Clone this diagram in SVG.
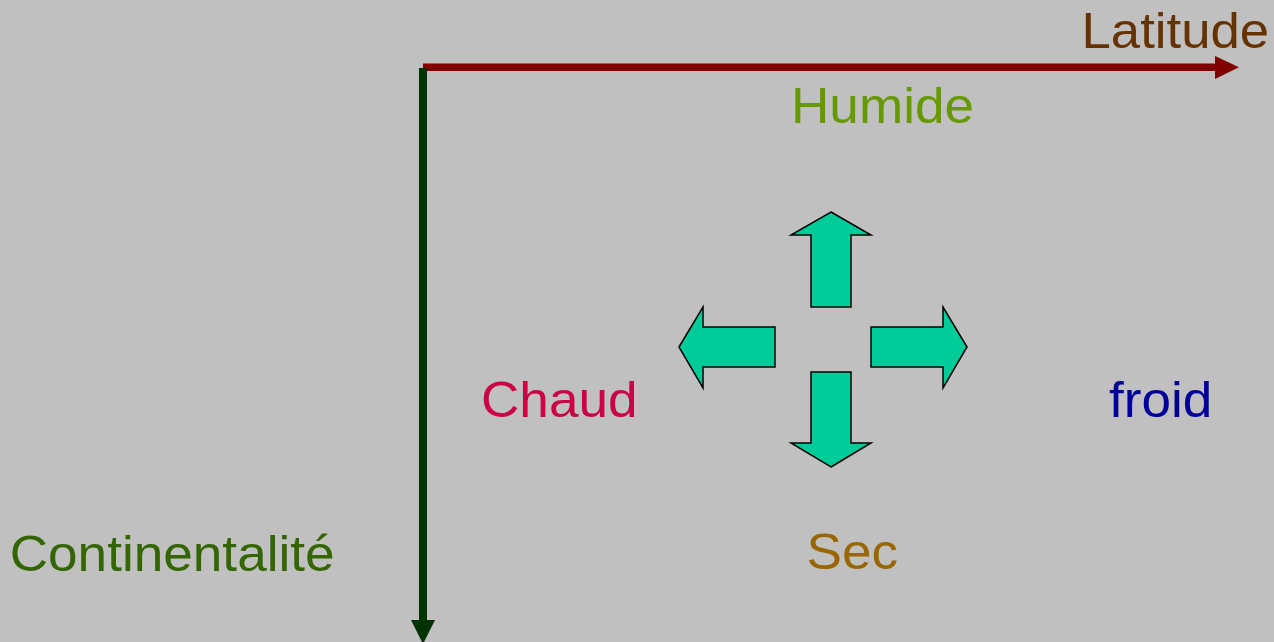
<svg xmlns="http://www.w3.org/2000/svg" width="1274" height="642" viewBox="0 0 1274 642">
<style>
text{font-family:"Liberation Sans",Arial,sans-serif;font-size:50px}
.arr{fill:#00cc99;stroke:#000;stroke-width:1.5;stroke-linejoin:miter}
</style>
<rect width="1274" height="642" fill="#c0c0c0"/>
<g id="connectors">
<rect x="423" y="63.5" width="794" height="7.5" fill="#800000"/>
<polygon points="1215,56 1239,67.3 1215,79" fill="#800000"/>
<rect x="419" y="68" width="8" height="553" fill="#003300"/>
<polygon points="411,620 435,620 423,644" fill="#003300"/>
</g>
<g id="latitude"><text transform="translate(1081.5,48) scale(1.055,1)" fill="#663300">Latitude</text></g>
<g id="humide"><text transform="translate(791,123) scale(1.063,1)" fill="#669900">Humide</text></g>
<g id="chaud"><text transform="translate(481,417) scale(1.063,1)" fill="#cc0044">Chaud</text></g>
<g id="froid"><text transform="translate(1109,417) scale(1.063,1)" fill="#000099">froid</text></g>
<g id="sec"><text transform="translate(806.5,569) scale(1.063,1)" fill="#996600">Sec</text></g>
<g id="continentalite"><text transform="translate(9.7,571) scale(1.063,1)" fill="#336600">Continentalité</text></g>
<g id="arrows">
<polygon class="arr" points="831,212 871,235 851,235 851,307 811,307 811,235 791,235"/>
<polygon class="arr" points="831,467 871,443 851,443 851,372 811,372 811,443 791,443"/>
<polygon class="arr" points="679,347 703,307 703,327 775,327 775,367 703,367 703,388"/>
<polygon class="arr" points="967,347 943,307 943,327 871,327 871,367 943,367 943,388"/>
</g>
</svg>
